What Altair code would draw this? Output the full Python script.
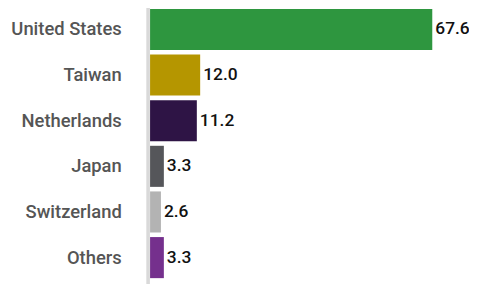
import altair as alt
import pandas as pd

countries = ["United States", "Taiwan", "Netherlands", "Japan", "Switzerland", "Others"]
values = [67.6, 12.0, 11.2, 3.3, 2.6, 3.3]
colors = ["#2e963f", "#b59600", "#2e1445", "#55565a", "#b3b3b3", "#75308d"]

df = pd.DataFrame({"country": countries, "value": values, "color": colors})
df["label"] = df["value"].map(lambda v: f"{v:.1f}")

W = 300
H = 271

y = alt.Y(
    "country:N",
    sort=countries,
    scale=alt.Scale(paddingInner=0.1, paddingOuter=0),
    axis=alt.Axis(
        title=None, domain=False, ticks=False, labelPadding=29,
        labelFont="Roboto", labelFontSize=18.5, labelFontWeight=500,
        labelColor="#555555",
    ),
)
x = alt.X("value:Q", scale=alt.Scale(domain=[0, 71.4]), axis=None)

bars = alt.Chart(df).mark_bar().encode(
    y=y, x=x, color=alt.Color("color:N", scale=None)
)
text = alt.Chart(df).mark_text(
    align="left", baseline="middle", dx=3, font="Roboto", fontSize=17.5,
    fontWeight=500, color="#111111"
).encode(y=y, x=x, text="label:N")
rule = alt.Chart(df).mark_rule(color="#d9d9d9", strokeWidth=2.5).encode(
    x=alt.value(-2), y=alt.value(-5), y2=alt.value(H + 10)
)

chart = alt.layer(rule, bars, text).properties(
    width=W, height=H,
    autosize=alt.AutoSizeParams(type="none"),
    padding={"left": 143, "top": 0, "right": 21, "bottom": 5},
).configure_view(stroke=None)

chart.save("out.html", embed_options={"renderer": "svg", "actions": False})
